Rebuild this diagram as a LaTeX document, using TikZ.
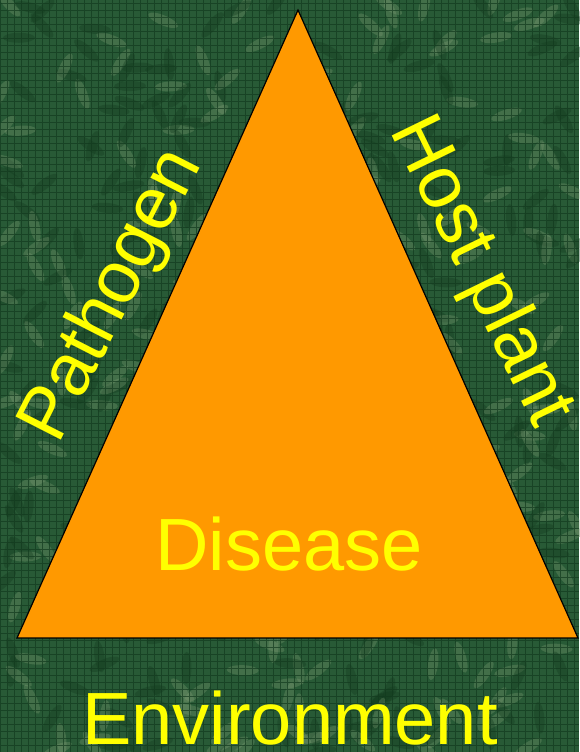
\documentclass[tikz,border=0pt]{standalone}
\usepackage{fontspec}
\setmainfont{Liberation Sans}
\definecolor{leaf}{RGB}{40,90,54}
\definecolor{leafdark}{RGB}{18,58,30}
\definecolor{leaflight}{RGB}{130,160,120}
\definecolor{tri}{RGB}{255,153,0}
\definecolor{lbl}{RGB}{255,255,0}

\tikzset{etq/.style={font=\fontsize{74}{82}\selectfont, text=lbl, inner sep=0pt},
         gridline/.style={leafdark, line width=0.5pt, opacity=0.7}}

\begin{document}
\begin{tikzpicture}[x=1pt, y=1pt]
  \useasboundingbox (0,0) rectangle (579,752);
  \fill[leaf] (0,0) rectangle (579,752);
  % texture
  \pgfmathsetseed{11}
  \foreach \i in {1,...,260} {
    \pgfmathsetmacro{\px}{579*rnd}\pgfmathsetmacro{\py}{752*rnd}\pgfmathsetmacro{\pa}{180*rnd}
    \fill[leaflight, opacity=0.3, rotate around={\pa:(\px,\py)}] (\px,\py) ellipse (16 and 5);
    \pgfmathsetmacro{\qx}{579*rnd}\pgfmathsetmacro{\qy}{752*rnd}\pgfmathsetmacro{\qa}{180*rnd}
    \fill[leafdark, opacity=0.35, rotate around={\qa:(\qx,\qy)}] (\qx,\qy) ellipse (16 and 5);
  }
  \draw[gridline, step=7pt] (0,0) grid (579,752);
  \coordinate (top) at (298,742);
  \coordinate (bl) at (17,114);
  \coordinate (br) at (578,114);
  \draw[fill=tri, line width=1.2pt] (top) -- (br) -- (bl) -- cycle;
  \node[etq, rotate=63] (pathogen) at (113,456) {Pathogen};
  \node[etq, rotate=-64] (host) at (480,480) {Host plant};
  \node[etq, anchor=base] (disease) at (289,181) {Disease};
  \node[etq, anchor=base] (env) at (290,7) {Environment};
\end{tikzpicture}
\end{document}
